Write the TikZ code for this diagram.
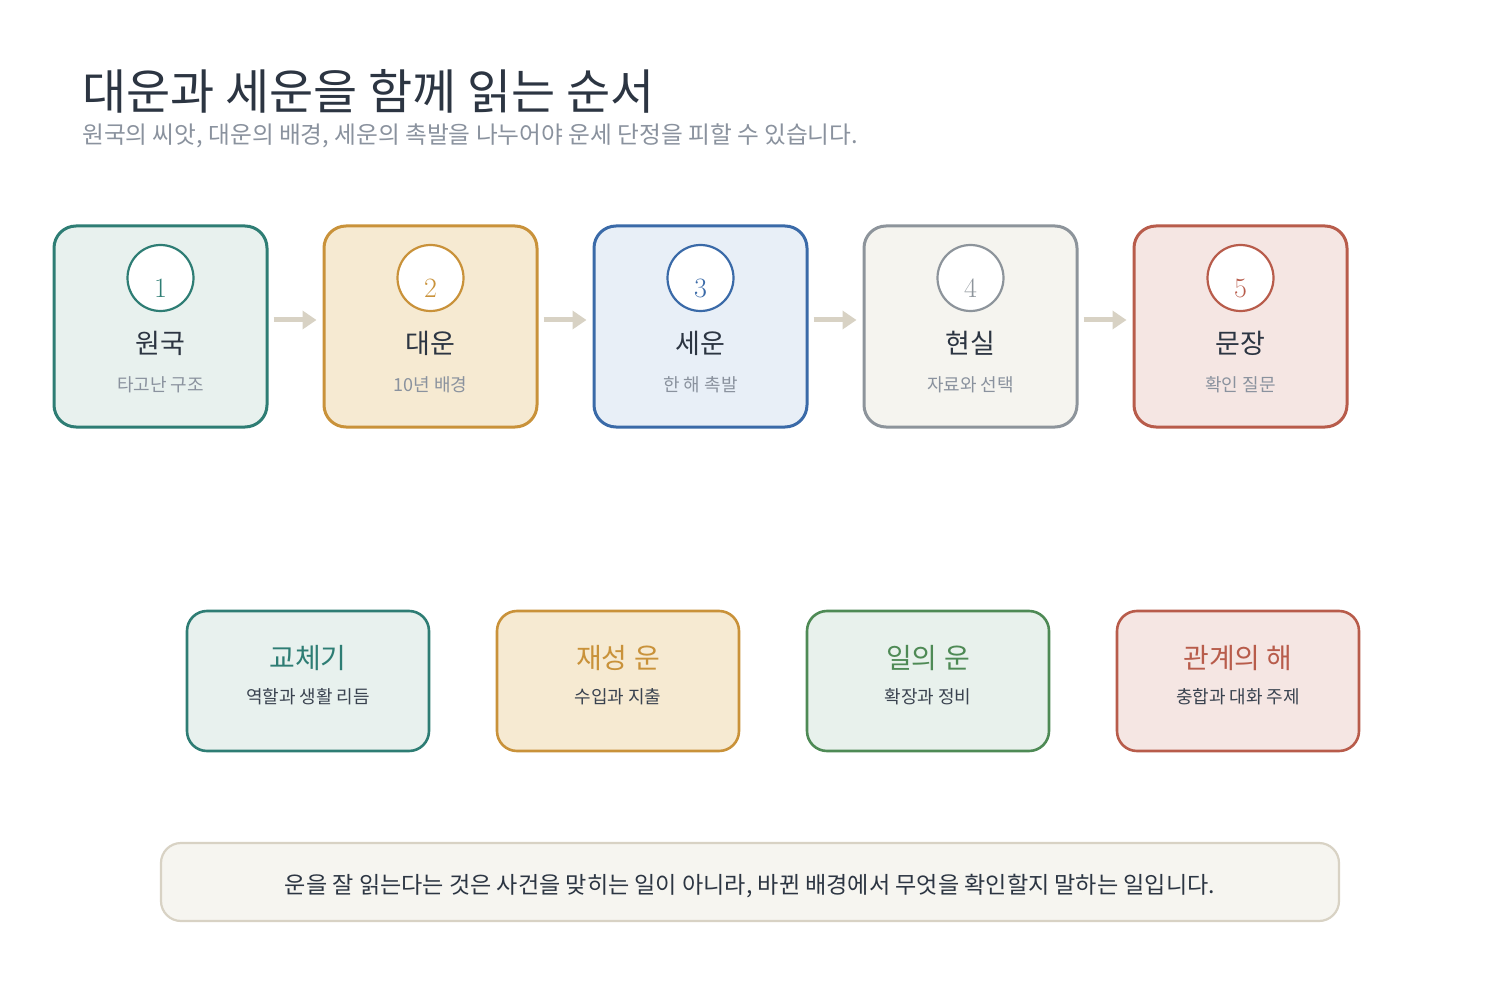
\documentclass[tikz,border=0pt]{standalone}
\usepackage{fontspec}
\newfontfamily\kr{Noto Sans CJK KR}
\usetikzlibrary{arrows.meta}
\definecolor{ink}{HTML}{2C3542}
\definecolor{muted}{HTML}{8A929E}
\definecolor{subdark}{HTML}{3A4350}
\definecolor{arrowc}{HTML}{D8D2C4}
\definecolor{tealS}{HTML}{2E7D74}\definecolor{tealF}{HTML}{E8F1EE}
\definecolor{goldS}{HTML}{C9923A}\definecolor{goldF}{HTML}{F6EAD2}
\definecolor{blueS}{HTML}{3A6AA8}\definecolor{blueF}{HTML}{E8EFF7}
\definecolor{grayS}{HTML}{8D949B}\definecolor{grayF}{HTML}{F5F4EF}
\definecolor{redS}{HTML}{B85C4B}\definecolor{redF}{HTML}{F5E6E3}
\definecolor{greenS}{HTML}{4E8A55}\definecolor{greenF}{HTML}{E8F1EC}
\definecolor{footF}{HTML}{F6F5F0}
\tikzset{
  stepbox/.style={draw, rounded corners=22pt, line width=3pt, minimum width=213pt, minimum height=201pt, inner sep=0pt},
  numcirc/.style={draw, circle, fill=white, line width=2.2pt, minimum size=66pt, inner sep=0pt},
  numtxt/.style={inner sep=0pt, font=\fontsize{28}{30}\selectfont},
  steptitle/.style={inner sep=0pt, text=ink, font=\kr\fontsize{27}{30}\selectfont},
  stepsub/.style={inner sep=0pt, text=muted, font=\kr\fontsize{18}{20}\selectfont},
  cardbox/.style={draw, rounded corners=20pt, line width=2.6pt, minimum width=242pt, minimum height=140pt, inner sep=0pt},
  cardtitle/.style={inner sep=0pt, font=\kr\fontsize{28}{30}\selectfont},
  cardsub/.style={inner sep=0pt, text=subdark, font=\kr\fontsize{18}{20}\selectfont},
  flow/.style={draw=arrowc, line width=5pt, -{Triangle[length=14pt,width=18pt]}},
}
\begin{document}
\begin{tikzpicture}[x=1pt,y=-1pt]
\useasboundingbox[fill=white] (0,0) rectangle (1500,1000);
% heading
\node[anchor=west, inner sep=0pt, text=ink, font=\kr\fontsize{48}{52}\selectfont] (title) at (82,91) {대운과 세운을 함께 읽는 순서};
\node[anchor=west, inner sep=0pt, text=muted, font=\kr\fontsize{23.7}{26}\selectfont] (subtitle) at (82,135.5) {원국의 씨앗, 대운의 배경, 세운의 촉발을 나누어야 운세 단정을 피할 수 있습니다.};
% step boxes
\foreach \i/\x/\s/\f/\t/\u in {1/160.5/tealS/tealF/원국/타고난 구조, 2/430.5/goldS/goldF/대운/10년 배경, 3/700.5/blueS/blueF/세운/한 해 촉발, 4/970.5/grayS/grayF/현실/자료와 선택, 5/1240.5/redS/redF/문장/확인 질문}{
  \node[stepbox, draw=\s, fill=\f] (b\i) at (\x,326.5) {};
  \node[numcirc, draw=\s] (c\i) at (\x,278) {};
  \node[numtxt, text=\s] (n\i) at (\x,288) {\i};
  \node[steptitle] (t\i) at (\x,343) {\t};
  \node[stepsub] (s\i) at (\x,385) {\u};
}
\foreach \a/\b in {1/2,2/3,3/4,4/5}{
  \draw[flow] ([xshift=5pt,yshift=6.5pt]b\a.east) -- ([xshift=-6pt,yshift=6.5pt]b\b.west);
}
% cards
\foreach \i/\x/\s/\f/\t/\u in {1/308/tealS/tealF/교체기/역할과 생활 리듬, 2/618/goldS/goldF/재성 운/수입과 지출, 3/928/greenS/greenF/일의 운/확장과 정비, 4/1238/redS/redF/관계의 해/충합과 대화 주제}{
  \node[cardbox, draw=\s, fill=\f] (k\i) at (\x,681) {};
  \node[cardtitle, text=\s] (kt\i) at (\x,658) {\t};
  \node[cardsub] (ks\i) at (\x,697) {\u};
}
% footer
\node[draw=arrowc, fill=footF, rounded corners=20pt, line width=2.2pt, minimum width=1178pt, minimum height=78pt, inner sep=0pt] (foot) at (750,882) {};
\node[inner sep=0pt, text=ink, font=\kr\fontsize{23.1}{26}\selectfont] (foottxt) at (750,886) {운을 잘 읽는다는 것은 사건을 맞히는 일이 아니라, 바뀐 배경에서 무엇을 확인할지 말하는 일입니다.};
\end{tikzpicture}
\end{document}
